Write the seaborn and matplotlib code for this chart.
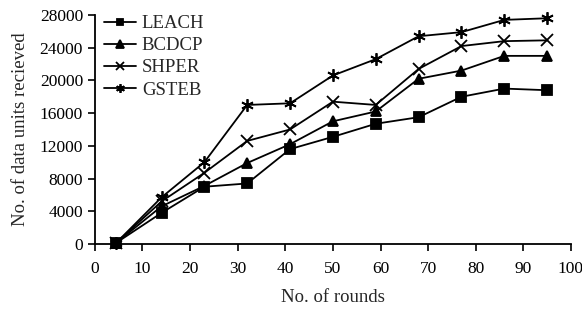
import numpy as np
import pandas as pd
from matplotlib import pyplot as plt
import seaborn as sns

rounds = [4.5, 14, 23, 32, 41, 50, 59, 68, 77, 86, 95]
leach = [150, 3800, 7000, 7400, 11600, 13100, 14700, 15500, 18000, 19000, 18800]
bcdcp = [150, 4600, 7100, 9900, 12200, 15000, 16200, 20200, 21200, 23000, 23000]
shper = [150, 5200, 8700, 12600, 14000, 17400, 17000, 21400, 24200, 24800, 24900]
gsteb = [150, 5700, 10000, 17000, 17200, 20600, 22600, 25400, 25900, 27400, 27600]

names = ['LEACH', 'BCDCP', 'SHPER', 'GSTEB']
markers = ['s', '^', 'x', (6, 2, 0)]
sizes = [7, 7.5, 8, 9]

sns.set_style('ticks')
plt.rcParams['font.family'] = ['Liberation Serif', 'DejaVu Serif']

fig, ax = plt.subplots(figsize=(5.82, 3.12), dpi=100)
fig.subplots_adjust(left=0.163, right=0.981, top=0.952, bottom=0.218)

for name, vals, m, ms in zip(names, [leach, bcdcp, shper, gsteb], markers, sizes):
    df = pd.DataFrame({'x': rounds, 'y': vals})
    sns.lineplot(data=df, x='x', y='y', ax=ax, color='black', linewidth=1.3,
                 marker=m, markersize=ms, markeredgewidth=1.3,
                 markeredgecolor='black', markerfacecolor='black',
                 clip_on=False, label=name)

ax.set_xlim(0, 100)
ax.set_ylim(0, 28000)
ax.set_xticks(range(0, 101, 10))
ax.set_yticks(range(0, 28001, 4000))
ax.tick_params(labelsize=12.5, direction='out', length=5, width=1.2, colors='black')
ax.tick_params(axis='x', pad=7)
for s in ['left', 'bottom']:
    ax.spines[s].set_linewidth(1.3)
    ax.spines[s].set_color('black')
sns.despine(ax=ax)
ax.set_xlabel('No. of rounds', fontsize=13.5, labelpad=9)
ax.set_ylabel('No. of data units recieved', fontsize=13.5, labelpad=8)

# the "100" tick label runs off the right edge in the original too
leg = ax.legend(loc='upper left', bbox_to_anchor=(0.02, 1.0), frameon=False,
                fontsize=13.5, handlelength=1.7, labelspacing=0.27, borderaxespad=0,
                borderpad=0, handletextpad=0.3, markerscale=0.7)
plt.savefig('out.png', dpi=100)
